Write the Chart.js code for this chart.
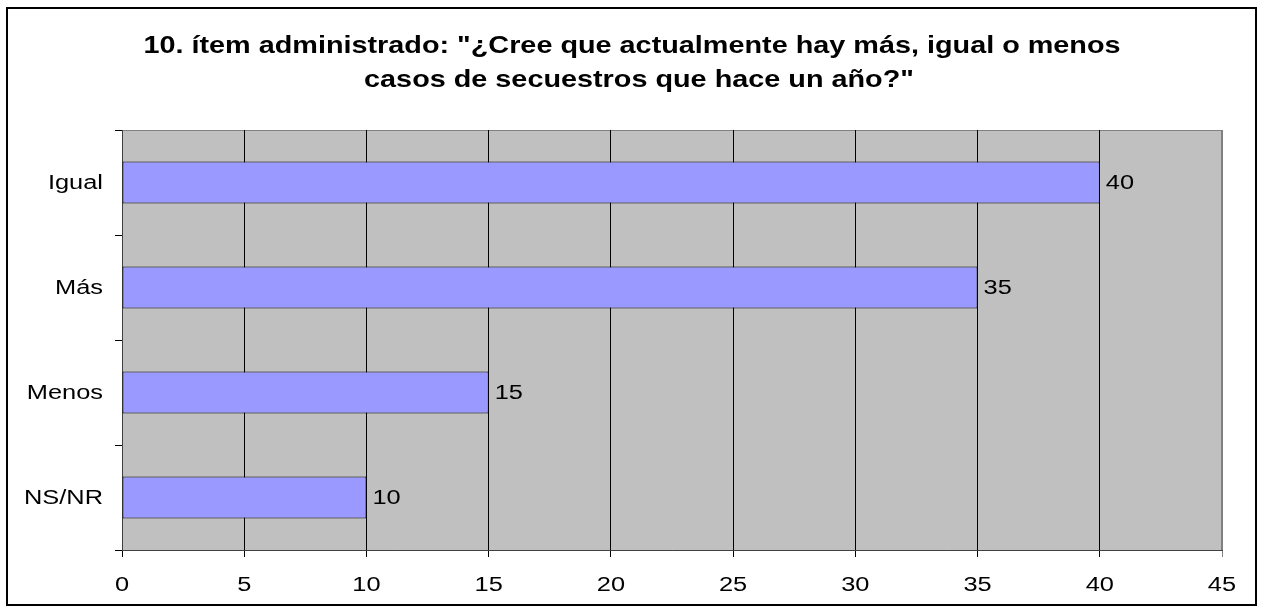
<!DOCTYPE html>
<html>
<head>
<meta charset="utf-8">
<script src="https://cdn.jsdelivr.net/npm/chart.js@4/dist/chart.umd.min.js"></script>
<style>
  html, body { margin: 0; padding: 0; background: #fff; }
</style>
</head>
<body>
<canvas id="myBarChart" width="1262" height="608"></canvas>
<script>
var categories = ['Igual', 'Más', 'Menos', 'NS/NR'];
var values = [40, 35, 15, 10];
var xTicks = [0, 5, 10, 15, 20, 25, 30, 35, 40, 45];
var titleLines = ['10. ítem administrado: "¿Cree que actualmente hay más, igual o menos', 'casos de secuestros que hace un año?"'];

var FONT = 'Arial, "Liberation Sans", sans-serif';
// the original text is drawn wide, so text gets a horizontal stretch
var LABEL_STRETCH = 1.27;
var TITLE_STRETCH = 1.2;

function wideText(c, text, x, y, align, stretch) {
  c.save();
  c.translate(x, y);
  c.scale(stretch, 1);
  c.textAlign = align;
  c.fillText(text, 0, 0);
  c.restore();
}

var plotBackground = {
  id: 'plotBackground',
  beforeDraw: function (chart) {
    var c = chart.ctx, a = chart.chartArea;
    c.save();
    c.fillStyle = '#fff';
    c.fillRect(0, 0, chart.width, chart.height);
    c.fillStyle = '#c0c0c0';
    c.fillRect(a.left, a.top, a.right - a.left, a.bottom - a.top);
    c.strokeStyle = '#808080';
    c.lineWidth = 1;
    c.strokeRect(a.left + 0.5, a.top + 0.5, a.right - a.left - 1, a.bottom - a.top);
    c.restore();
  },
  afterDraw: function (chart) {
    var c = chart.ctx;
    c.save();
    c.strokeStyle = '#000';
    c.lineWidth = 2;
    c.strokeRect(7, 8, 1249, 597);
    c.restore();
  }
};

var chartText = {
  id: 'chartText',
  afterDraw: function (chart) {
    var c = chart.ctx;
    var xs = chart.scales.x, ys = chart.scales.y;
    var meta = chart.getDatasetMeta(0);
    c.save();
    c.fillStyle = '#000';

    // title
    c.font = 'bold 24px ' + FONT;
    c.textBaseline = 'alphabetic';
    wideText(c, titleLines[0], 632, 53, 'center', TITLE_STRETCH);
    wideText(c, titleLines[1], 639, 87, 'center', TITLE_STRETCH);

    c.font = '20px ' + FONT;
    c.textBaseline = 'middle';

    // category labels
    categories.forEach(function (cat, i) {
      wideText(c, cat, ys.left + ys.width - 19, ys.getPixelForValue(i) + 1, 'right', LABEL_STRETCH);
    });

    // value axis labels
    xTicks.forEach(function (v) {
      wideText(c, String(v), xs.getPixelForValue(v), xs.top + 35, 'center', LABEL_STRETCH);
    });

    // bar values
    meta.data.forEach(function (bar, i) {
      wideText(c, String(values[i]), bar.x + 6, bar.y + 1, 'left', LABEL_STRETCH);
    });
    c.restore();
  }
};

document.addEventListener("DOMContentLoaded", function () {
  var ctx = document.getElementById('myBarChart').getContext('2d');
  var myBarChart = new Chart(ctx, {
    type: 'bar',
    data: {
      labels: categories,
      datasets: [{
        data: values,
        backgroundColor: '#9999ff',
        borderColor: '#000',
        borderWidth: 1,
        borderSkipped: false,
        barPercentage: 0.4,
        categoryPercentage: 1.0
      }]
    },
    plugins: [plotBackground, chartText],
    options: {
      indexAxis: 'y',
      responsive: false,
      animation: false,
      layout: { padding: { left: 0, right: 40, top: 130, bottom: 8 } },
      plugins: {
        legend: { display: false },
        tooltip: { enabled: false },
        title: { display: false }
      },
      scales: {
        x: {
          type: 'linear',
          min: 0,
          max: 45,
          afterBuildTicks: function (scale) {
            scale.ticks = xTicks.map(function (v) { return { value: v }; });
          },
          afterFit: function (scale) { scale.height = 50; },
          grid: {
            color: function (c) { return c.index === xTicks.length - 1 ? '#808080' : '#000'; },
            lineWidth: 1,
            tickLength: 7,
            drawOnChartArea: true
          },
          border: { color: '#404040', width: 1 },
          ticks: { display: false }
        },
        y: {
          afterFit: function (scale) { scale.width = 122; },
          grid: {
            offset: true,
            drawOnChartArea: false,
            color: '#000',
            tickLength: 7
          },
          border: { color: '#404040', width: 1 },
          ticks: { display: false }
        }
      }
    }
  });
});
</script>
</body>
</html>
